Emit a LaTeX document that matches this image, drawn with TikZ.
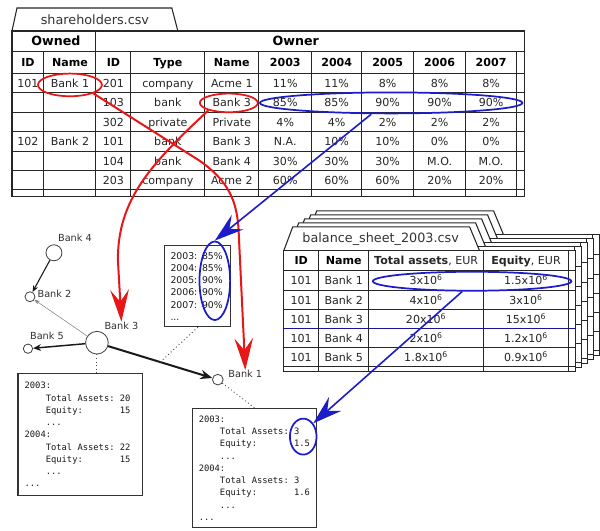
\documentclass[tikz,border=0pt]{standalone}
\usepackage{fontspec}
\setmainfont{DejaVu Sans}
\setmonofont{DejaVu Sans Mono}
\usetikzlibrary{shapes.geometric, arrows.meta}
\definecolor{markred}{RGB}{232,22,22}
\definecolor{markblue}{RGB}{28,28,200}
\tikzstyle{tableline} = [line width=0.8pt, draw=black!85]
\tikzstyle{cell} = [inner sep=0pt, text height=6pt, text depth=0pt, text=black!85, font=\fontsize{8.3}{10}\selectfont]
\tikzstyle{head} = [cell, text=black, font=\fontsize{8.3}{10}\selectfont\bfseries]
\tikzstyle{tabname} = [inner sep=0pt, text=black!80, font=\fontsize{9.6}{11}\selectfont]
\tikzstyle{bank} = [circle, draw=black!75, fill=white, line width=0.6pt, inner sep=0pt]
\tikzstyle{banklabel} = [inner sep=0pt, text=black!80, font=\fontsize{7.3}{8}\selectfont]
\tikzstyle{databox} = [rectangle, draw=black!80, line width=0.8pt, fill=white, align=left, inner xsep=5pt, inner ysep=0pt, text=black!90]
\tikzstyle{ring} = [ellipse, line width=1.3pt, inner sep=0pt]
\tikzstyle{redarrow} = [color=markred, line width=1.5pt, -{Stealth[length=24pt, width=14pt, inset=9pt]}]
\tikzstyle{bluearrow} = [color=markblue, line width=1.2pt, -{Stealth[length=22pt, width=14pt, inset=8pt]}]
\tikzstyle{dotline} = [dotted, line width=0.7pt, draw=black!70]
% one blank character of the mono font, and a four character indent
\newcommand{\msp}{\hphantom{0}}
\newcommand{\lpad}{\hphantom{0000}}

\begin{document}
\begin{tikzpicture}[x=0.75pt, y=-0.75pt]
\fill[white] (0,0) rectangle (600,531);

% shareholders.csv
\draw[tableline, fill=white] (12,31) -- (17,8) -- (172,8) -- (178,31);
\node (shtab) [tabname] at (95,20) {shareholders.csv};
\draw[tableline] (12,31) rectangle (525,197);
\foreach \y in {52,74,93,113,132,152,171,190}
  \draw[tableline] (12,\y) -- (525,\y);
\draw[tableline] (96,31) -- (96,197);
\foreach \x in {44,131,205,259,312,362,414,466,517}
  \draw[tableline] (\x,52) -- (\x,197);
\node (owned) [head, font=\fontsize{9.5}{11}\selectfont\bfseries] at (56,41.5) {Owned};
\node (owner) [head, font=\fontsize{9.5}{11}\selectfont\bfseries] at (296,41.5) {Owner};
\foreach \x/\t [count=\i] in {28/ID, 70/Name, 113.5/ID, 168/Type, 232/Name, 285.5/2003, 337/2004, 388/2005, 440/2006, 491.5/2007}
  \node (shhead\i) [head] at (\x,63) {\t};
\foreach \y/\oid/\onm/\sid/\typ/\snm/\pa/\pb/\pc/\pd/\pe [count=\r] in {
    83.5/101/Bank 1/201/company/Acme 1/11\%/11\%/8\%/8\%/8\%,
    103/{}/{}/103/bank/Bank 3/85\%/85\%/90\%/90\%/90\%,
    122.5/{}/{}/302/private/Private/4\%/4\%/2\%/2\%/2\%,
    142/102/Bank 2/101/bank/Bank 3/N.A./10\%/10\%/0\%/0\%,
    161.5/{}/{}/104/bank/Bank 4/30\%/30\%/30\%/M.O./M.O.,
    180.5/{}/{}/203/company/Acme 2/60\%/60\%/60\%/20\%/20\%}
{
  \node (oid\r) [cell] at (28,\y) {\oid};
  \node (onm\r) [cell] at (70,\y) {\onm};
  \node (sid\r) [cell] at (113.5,\y) {\sid};
  \node (typ\r) [cell] at (168,\y) {\typ};
  \node (snm\r) [cell] at (232,\y) {\snm};
  \node (pa\r) [cell] at (285.5,\y) {\pa};
  \node (pb\r) [cell] at (337,\y) {\pb};
  \node (pc\r) [cell] at (388,\y) {\pc};
  \node (pd\r) [cell] at (440,\y) {\pd};
  \node (pe\r) [cell] at (491.5,\y) {\pe};
}

% balance sheets, back ones first
\foreach \k in {4,3,2,1} {
  \begin{scope}[shift={(6*\k,-4*\k)}]
    \draw[tableline, fill=white] (284,251) -- (293,227) -- (470,227) -- (480,251);
    \draw[tableline, fill=white] (284,251) rectangle (576,372);
    \foreach \y in {271,291,310,329,348,367}
      \draw[tableline] (284,\y) -- (576,\y);
    \draw[tableline] (569,251) -- (569,372);
  \end{scope}
}
\draw[tableline, fill=white] (284,251) -- (293,227) -- (470,227) -- (480,251);
\node (bstab) [tabname] at (381,239) {balance\_sheet\_2003.csv};
\draw[tableline, fill=white] (284,251) rectangle (576,372);
\foreach \y in {271,291,310,348,367}
  \draw[tableline] (284,\y) -- (576,\y);
\draw[line width=0.8pt, markblue!75!black] (284,329) -- (576,329);
\foreach \x in {319,369,484,569}
  \draw[tableline] (\x,251) -- (\x,372);
\node (bshead1) [head] at (301.5,261) {ID};
\node (bshead2) [head] at (344,261) {Name};
\node (bshead3) [cell] at (426.5,261) {\textbf{Total assets}, EUR};
\node (bshead4) [cell] at (526.5,261) {\textbf{Equity}, EUR};
\foreach \y/\nm/\ta/\eq [count=\r] in {281/Bank 1/3/1.5, 300.5/Bank 2/4/3, 319.5/Bank 3/20/15, 338.5/Bank 4/2/1.2, 357.5/Bank 5/1.8/0.9}
{
  \node (bsid\r) [cell] at (301.5,\y) {101};
  \node (bsnm\r) [cell] at (344,\y) {\nm};
  \node (bsta\r) [cell] at (426.5,\y) {\ta x10\textsuperscript{6}};
  \node (bseq\r) [cell] at (526.5,\y) {\eq x10\textsuperscript{6}};
}

% ownership network
\node (b4) [bank, minimum size=12pt] at (54,253) {};
\node (b2) [bank, minimum size=7.5pt] at (30,297) {};
\node (b3) [bank, minimum size=17pt] at (97,343) {};
\node (b5) [bank, minimum size=7pt] at (28,349) {};
\node (b1) [bank, minimum size=8pt] at (218,380) {};
\node (l4) [banklabel] at (75,238) {Bank 4};
\node (l2) [banklabel] at (54.5,294) {Bank 2};
\node (l3) [banklabel] at (121.5,326) {Bank 3};
\node (l5) [banklabel] at (47,336) {Bank 5};
\node (l1) [banklabel] at (245.5,374.5) {Bank 1};
\draw [black!90, line width=0.8pt, -{Stealth[length=5pt, width=4pt]}] (b4) -- (b2);
\draw [black!50, line width=0.4pt, -{Stealth[length=4pt, width=3pt]}] (b3) -- (b2);
\draw [black!90, line width=1.1pt, -{Stealth[length=6pt, width=5pt]}] (b3) -- (b5);
\draw [black!90, line width=1.5pt, -{Stealth[length=9pt, width=7pt]}] (b3) -- coordinate[pos=0.5] (mid31) (b1);

% node data
\node (pctbox) [databox, font=\fontsize{7}{9.2}\selectfont, inner xsep=4.25pt, text width=41pt, minimum width=49.5pt, minimum height=60.75pt] at (198,286.5)
  {2003: 85\%\\2004: 85\%\\2005: 90\%\\2006: 90\%\\2007: 90\%\\...};
\node (box3) [databox, font=\ttfamily\fontsize{6.6}{9.2}\selectfont, text width=83.75pt, minimum width=93.75pt, minimum height=91.5pt] at (80.5,435)
  {2003:\\
   \lpad Total\msp Assets:\msp 20\\
   \lpad Equity:\msp\msp\msp\msp\msp\msp\msp 15\\
   \lpad ...\\
   2004:\\
   \lpad Total\msp Assets:\msp 22\\
   \lpad Equity:\msp\msp\msp\msp\msp\msp\msp 15\\
   \lpad ...\\
   ...};
\node (box1) [databox, font=\ttfamily\fontsize{6.6}{9.2}\selectfont, inner xsep=4.5pt, text width=84pt, minimum width=93pt, minimum height=89.25pt] at (255,468.5)
  {2003:\\
   \lpad Total\msp Assets:\msp 3\\
   \lpad Equity:\msp\msp\msp\msp\msp\msp\msp 1.5\\
   \lpad ...\\
   2004:\\
   \lpad Total\msp Assets:\msp 3\\
   \lpad Equity:\msp\msp\msp\msp\msp\msp\msp 1.6\\
   \lpad ...\\
   ...};
\draw [dotline] (b3) -- (b3 |- box3.north);
\draw [dotline] (b1) -- (box1.north);
\draw [dotline] (mid31) -- (pctbox.south);

% selections
\node (selown) [ring, draw=markred, minimum width=48pt, minimum height=17pt] at (70,85) {};
\node (selbank) [ring, draw=markred, minimum width=43.5pt, minimum height=14pt] at (229,103) {};
\node (selrow) [ring, draw=markblue, minimum width=197pt, minimum height=15.75pt] at (391.5,103) {};
\node (selpct) [ring, draw=markblue, minimum width=23pt, minimum height=59pt] at (215,281) {};
\node (selbs) [ring, draw=markblue, minimum width=149pt, minimum height=14.25pt] at (472.5,281.5) {};
\node (selval) [ring, draw=markblue, minimum width=20pt, minimum height=27pt] at (303.5,437) {};

% where the values go
\draw [redarrow] (selown.-20) -- (200,161) .. controls (228,181) and (238,200) .. (239,235) -- (l1.north);
\draw [redarrow] (selbank.200) .. controls (150,165) and (118,200) .. (118,260) -- (l3.north);
\draw [bluearrow] ([xshift=-15pt]selrow.south) -- (selpct.north);
\draw [bluearrow] ([xshift=-7.5pt]selbs.south) -- (selval.north east);
\end{tikzpicture}
\end{document}
